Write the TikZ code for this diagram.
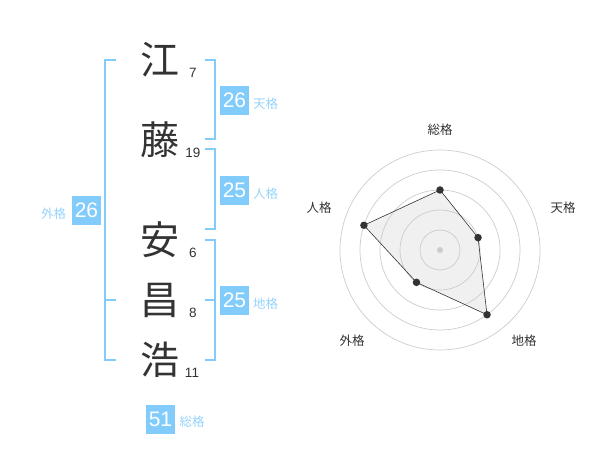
\documentclass[tikz,border=0pt]{standalone}
\usepackage{fontspec}
\setmainfont{Liberation Sans}
\newfontfamily\jpfont{Noto Sans CJK JP}
\usetikzlibrary{positioning}
\definecolor{kakublue}{RGB}{130,204,252}
\definecolor{kakulight}{RGB}{150,212,252}
\definecolor{inkgray}{RGB}{51,51,51}
\definecolor{ringgray}{RGB}{204,204,204}
\definecolor{areagray}{RGB}{240,240,240}

\begin{document}
\begin{tikzpicture}[x=1pt, y=-1pt,
kanji/.style = {font=\jpfont\fontsize{39}{39}\selectfont, text=inkgray, inner sep=0pt},
count/.style = {font=\fontsize{13.5}{14}\selectfont, text=inkgray, inner sep=0pt},
kakubox/.style = {fill=kakublue, text=white, minimum size=29pt, inner sep=0pt, font=\fontsize{21}{21}\selectfont},
kakulabel/.style = {font=\jpfont\fontsize{12.5}{13}\selectfont, text=kakulight, inner sep=0pt},
axislabel/.style = {font=\jpfont\fontsize{12.5}{13}\selectfont, text=inkgray, inner sep=0pt},
bracket/.style = {draw=kakublue, line width=1.6pt},
ring/.style = {draw=ringgray, line width=0.7pt},
dot/.style = {circle, fill=inkgray, inner sep=0pt, minimum size=7.5pt}]

\useasboundingbox (0,0) rectangle (600,470);

\begin{scope}[on grid]

  \node[kanji] (k_e) at (160,60) {江};
  \node[kanji] (k_to) at (160,140) {藤};
  \node[kanji] (k_an) at (160,240) {安};
  \node[kanji] (k_sho) at (160,300) {昌};
  \node[kanji] (k_hiro) at (160,360) {浩};

  \node[count] (c_e) [below right=13pt and 33pt of k_e] {7};
  \node[count] (c_to) [below right=13pt and 33pt of k_to] {19};
  \node[count] (c_an) [below right=13pt and 33pt of k_an] {6};
  \node[count] (c_sho) [below right=13pt and 33pt of k_sho] {8};
  \node[count] (c_hiro) [below right=13pt and 32pt of k_hiro] {11};

  \draw[bracket] (116,60) -- (105,60) -- (105,360) -- (116,360);
  \draw[bracket] (105,300) -- (116,300);
  \draw[bracket] (205,60) -- (215,60) -- (215,139) -- (205,139);
  \draw[bracket] (205,149) -- (215,149) -- (215,229) -- (205,229);
  \draw[bracket] (205,240) -- (215,240) -- (215,360) -- (205,360);
  \draw[bracket] (205,300) -- (215,300);

  \node[kakubox] (ten) at (234.5,100.5) {26};
  \node[kakulabel] (ten_l) [below right=3pt and 31pt of ten] {天格};
  \node[kakubox] (jin) at (234.5,190.5) {25};
  \node[kakulabel] (jin_l) [below right=3pt and 31pt of jin] {人格};
  \node[kakubox] (chi) at (234.5,300.5) {25};
  \node[kakulabel] (chi_l) [below right=3pt and 31pt of chi] {地格};
  \node[kakubox] (gai) at (86.5,210.5) {26};
  \node[kakulabel] (gai_l) [below left=3pt and 33pt of gai] {外格};
  \node[kakubox] (sou) at (160.5,419) {51};
  \node[kakulabel] (sou_l) [below right=3pt and 31.5pt of sou] {総格};

\end{scope}

\begin{scope}[shift={(440,250)}]
  \coordinate (p_sou) at (90:60pt);
  \coordinate (p_ten) at (18:40pt);
  \coordinate (p_chi) at (-54:80pt);
  \coordinate (p_gai) at (234:40pt);
  \coordinate (p_jin) at (162:80pt);

  \fill[areagray] (p_sou) -- (p_ten) -- (p_chi) -- (p_gai) -- (p_jin) -- cycle;
  \foreach \r in {20,40,...,100} \draw[ring] (0,0) circle (\r pt);
  \draw[inkgray, line width=0.6pt] (p_sou) -- (p_ten) -- (p_chi) -- (p_gai) -- (p_jin) -- cycle;
  \foreach \p in {sou,ten,chi,gai,jin} \node[dot] (d_\p) at (p_\p) {};
  \node[circle, fill=ringgray, inner sep=0pt, minimum size=6pt] (center) at (0,0) {};
\end{scope}

  \node[axislabel] (a_sou) at (440,130) {総格};
  \node[axislabel] (a_ten) at (563,208) {天格};
  \node[axislabel] (a_chi) at (524,341) {地格};
  \node[axislabel] (a_gai) at (352,341) {外格};
  \node[axislabel] (a_jin) at (319,208) {人格};

\end{tikzpicture}
\end{document}
